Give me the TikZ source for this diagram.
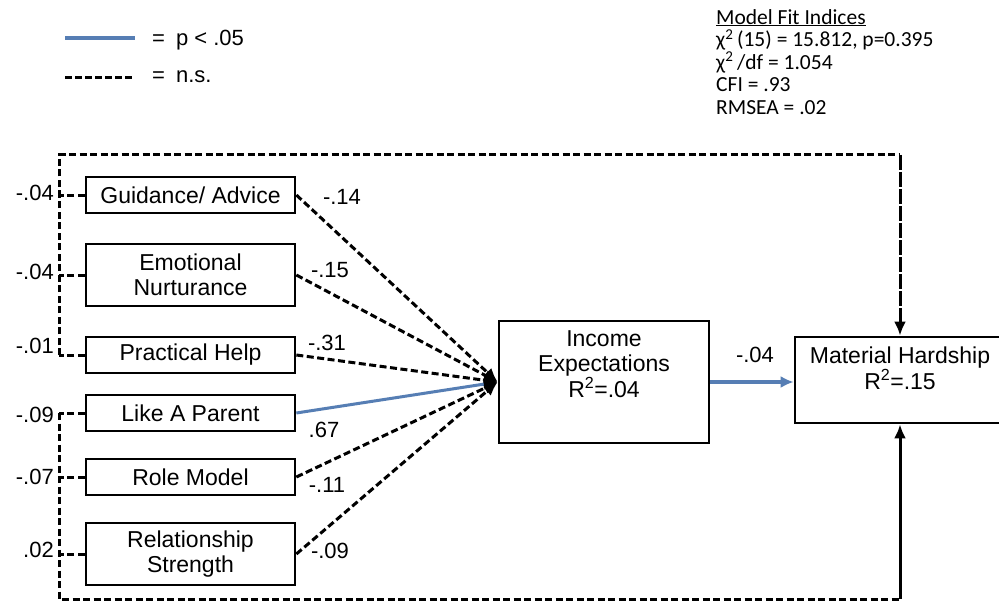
\documentclass[tikz,border=0pt]{standalone}
\usepackage{fontspec}
\setmainfont{Liberation Sans}
\newfontfamily\fitfont{Carlito}
\usetikzlibrary{arrows.meta}

\definecolor{sigblue}{RGB}{86,126,180}

\tikzset{
  varbox/.style={draw, line width=2.7pt, align=center, inner sep=0pt,
    font=\fontsize{23}{25}\selectfont},
  nsline/.style={line width=3pt, dash pattern=on 7pt off 3.5pt},
  nsdense/.style={line width=3pt, dash pattern=on 15pt off 2pt},
  sigline/.style={line width=3pt, color=sigblue},
  head/.style={-{Latex[length=14pt,width=12pt]}},
  coef/.style={font=\fontsize{22}{24}\selectfont, inner sep=0pt},
  legtext/.style={font=\fontsize{22}{24}\selectfont, inner sep=0pt, anchor=west},
}

\begin{document}
\begin{tikzpicture}[x=1pt, y=-1pt]
\useasboundingbox[fill=white] (0,0) rectangle (999,607);

% legend
\coordinate (lb1) at (65,38);  \coordinate (lb2) at (135,38);
\coordinate (ld1) at (65,78);  \coordinate (ld2) at (135,78);
\draw[sigline, line width=3.6pt] (lb1) -- (lb2);
\draw[line width=3pt, dash pattern=on 7pt off 3pt] (ld1) -- (ld2);
\node[legtext] (legsig) at (152,40) {=\enspace p < .05};
\node[legtext] (legns) at (152,77) {=\enspace n.s.};

% model fit indices
\node[anchor=north west, align=left, inner sep=0pt,
      font=\fitfont\fontsize{21.5}{22.5}\selectfont] (fit) at (716,9)
  {\underline{Model Fit Indices}\\
   χ\textsuperscript{2}\,(15) = 15.812, p=0.395\\
   χ\textsuperscript{2}\,/df = 1.054\\
   CFI = .93\\
   RMSEA = .02};

% predictor boxes
\node[varbox, minimum width=209pt, minimum height=36pt] (ga) at (190.5,195) {Guidance/ Advice};
\node[varbox, minimum width=209pt, minimum height=62pt] (en) at (190.5,275) {Emotional\\Nurturance};
\node[varbox, minimum width=209pt, minimum height=36pt] (ph) at (190.5,355) {Practical Help};
\node[varbox, minimum width=209pt, minimum height=36pt] (lp) at (190.5,413) {Like A Parent};
\node[varbox, minimum width=209pt, minimum height=36pt] (rm) at (190.5,477) {Role Model};
\node[varbox, minimum width=209pt, minimum height=62pt] (rs) at (190.5,554) {Relationship\\Strength};

% mediator and outcome
\node[varbox, minimum width=210pt, minimum height=122pt] (ie) at (604,382) {};
\node[align=center, inner sep=0pt, anchor=north, font=\fontsize{23}{25}\selectfont]
  (ietext) at (604,330) {Income\\Expectations\\R\textsuperscript{2}=.04};
\node[varbox, minimum width=210pt, minimum height=86pt] (mh) at (900,380) {};
\node[align=center, inner sep=0pt, anchor=north, font=\fontsize{23}{24}\selectfont]
  (mhtext) at (900,347) {Material Hardship\\R\textsuperscript{2}=.15};

% frame corners
\coordinate (tl) at (59,155);
\coordinate (tr) at (900,155);
\coordinate (bl) at (59,599);
\coordinate (br) at (900,599);
\coordinate (phl) at (59,355);
\coordinate (lpl) at (59,413);

% direct paths into material hardship
\draw[nsline] (phl) -- (tl) -- (tr);
\draw[nsdense, head] (tr) -- (mh.north);
\draw[nsline] (lpl) -- (bl) -- (br);
\draw[line width=3pt, head] (br) -- (mh.south);

% ticks from each predictor to the frame
\foreach \b in {ga,en,ph,lp,rm,rs}
  \draw[nsline] (\b.west) -- (\b.west -| tl);

% frame coefficients
\node[coef, anchor=east] (cga) at (54,193) {-.04};
\node[coef, anchor=east] (cen) at (54,272) {-.04};
\node[coef, anchor=east] (cph) at (54,346) {-.01};
\node[coef, anchor=east] (clp) at (54,415) {-.09};
\node[coef, anchor=east] (crm) at (54,477) {-.07};
\node[coef, anchor=east] (crs) at (54,550) {.02};

% paths into income expectations
\draw[nsline, head] (ga.east) -- (ie.west);
\draw[nsline, head] (en.east) -- (ie.west);
\draw[nsline, head] (ph.east) -- (ie.west);
\draw[nsline, head] (rm.east) -- (ie.west);
\draw[nsline, head] (rs.east) -- (ie.west);
\draw[sigline, -{Latex[length=14pt,width=12pt,color=black]}] (lp.east) -- (ie.west);

% path coefficients
\node[coef] (l1) at (342,197) {-.14};
\node[coef] (l2) at (330,270) {-.15};
\node[coef] (l3) at (327,343) {-.31};
\node[coef] (l4) at (324,430) {.67};
\node[coef] (l5) at (327,485) {-.11};
\node[coef] (l6) at (330,551) {-.09};

% mediator to outcome
\draw[sigline, line width=3.6pt, -{Latex[length=13pt,width=12pt]}] (ie.east) -- (ie.east -| mh.west);
\node[coef] (l7) at (755,355) {-.04};
\end{tikzpicture}
\end{document}
